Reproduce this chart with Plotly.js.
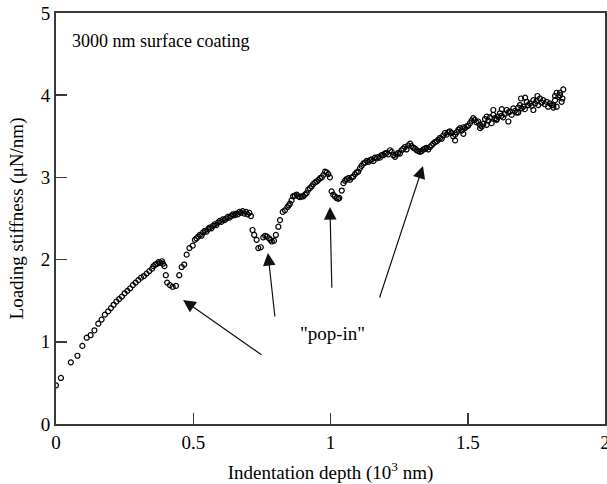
<!DOCTYPE html>
<html>
<head>
<meta charset="utf-8">
<script src="https://cdn.plot.ly/plotly-3.0.1.min.js"></script>
<style>html,body{margin:0;padding:0;background:#fff;}#chart{width:607px;height:484px;}</style>
</head>
<body>
<div id="chart"></div>
<script>
// Indentation depth (10^3 nm)
const depth = [
0, 0.018, 0.054, 0.078, 0.096, 0.112, 0.126, 0.14, 0.154, 0.166, 0.178, 0.19, 0.2, 0.21, 0.22, 0.23, 0.24, 0.25, 0.26, 0.27,
0.28, 0.29, 0.3, 0.31, 0.32, 0.33, 0.34, 0.35, 0.355, 0.362, 0.368, 0.374, 0.38, 0.386, 0.39, 0.395,
0.40, 0.405, 0.415, 0.425, 0.437, 0.449, 0.458, 0.467, 0.476, 0.486, 0.498, 0.506,
0.512, 0.518, 0.524, 0.53, 0.536, 0.542, 0.548, 0.554, 0.56, 0.566, 0.572, 0.578, 0.584, 0.59, 0.596, 0.602, 0.608, 0.614,
0.62, 0.626, 0.632, 0.638, 0.644, 0.65, 0.656, 0.662, 0.668, 0.674, 0.68, 0.686, 0.692, 0.698, 0.704, 0.71,
0.716, 0.722, 0.731, 0.737, 0.746, 0.755, 0.762, 0.768, 0.776, 0.781, 0.786, 0.794, 0.801, 0.81, 0.816, 0.826, 0.834,
0.843, 0.848, 0.852, 0.858, 0.864, 0.87, 0.877, 0.883, 0.889, 0.895, 0.901, 0.907, 0.913, 0.919, 0.925, 0.931, 0.937,
0.944, 0.95, 0.956, 0.962, 0.968, 0.974, 0.98, 0.986, 0.992, 0.998,
1.004, 1.01, 1.016, 1.022, 1.028, 1.032, 1.041, 1.047, 1.053, 1.059, 1.065, 1.071, 1.077, 1.083, 1.089, 1.095, 1.101,
1.107, 1.113, 1.12, 1.126, 1.132, 1.138, 1.144, 1.15, 1.156, 1.162, 1.168, 1.174, 1.18, 1.186, 1.192, 1.198, 1.204,
1.21, 1.217, 1.223, 1.229, 1.235, 1.241, 1.247, 1.253, 1.259, 1.265, 1.271, 1.277, 1.283, 1.29, 1.296, 1.302, 1.308,
1.314, 1.32, 1.326, 1.332, 1.338, 1.344, 1.35, 1.356, 1.362, 1.368, 1.374, 1.381, 1.387, 1.393, 1.399, 1.405, 1.411,
1.417, 1.423, 1.429, 1.435, 1.441, 1.447, 1.454, 1.46, 1.466, 1.472, 1.478, 1.484, 1.49, 1.496, 1.502, 1.508, 1.514,
1.52, 1.526, 1.532, 1.538, 1.544, 1.551, 1.557, 1.563, 1.569, 1.575, 1.581, 1.587, 1.593, 1.599, 1.605, 1.611, 1.617,
1.623, 1.629, 1.635, 1.642, 1.648, 1.654, 1.66, 1.666, 1.672, 1.678, 1.684, 1.69, 1.696, 1.702, 1.708, 1.715, 1.721,
1.727, 1.733, 1.739, 1.745, 1.751, 1.757, 1.763, 1.769, 1.775, 1.781, 1.787, 1.793, 1.799, 1.806, 1.812, 1.818, 1.824,
1.83, 1.836, 1.842, 1.845, 1.848,
1.593, 1.624, 1.694, 1.709, 1.754, 1.818, 1.824, 1.836, 1.648, 1.545, 1.569, 1.454, 1.484, 1.739, 1.812, 1.605, 1.684
];
// Loading stiffness (uN/nm)
const stiffness = [
0.47, 0.56, 0.75, 0.83, 0.95, 1.05, 1.08, 1.14, 1.22, 1.27, 1.33, 1.37, 1.41, 1.45, 1.49, 1.52, 1.55, 1.59, 1.62, 1.65,
1.69, 1.72, 1.75, 1.78, 1.80, 1.83, 1.86, 1.89, 1.92, 1.94, 1.95, 1.97, 1.96, 1.98, 1.95, 1.92,
1.81, 1.72, 1.69, 1.67, 1.68, 1.81, 1.91, 1.94, 2.06, 2.14, 2.17, 2.24,
2.26, 2.28, 2.30, 2.29, 2.33, 2.35, 2.34, 2.37, 2.39, 2.38, 2.41, 2.43, 2.42, 2.45, 2.47, 2.46, 2.49, 2.48,
2.50, 2.52, 2.51, 2.53, 2.55, 2.54, 2.56, 2.55, 2.58, 2.57, 2.59, 2.56, 2.58, 2.55, 2.57, 2.53,
2.36, 2.30, 2.24, 2.14, 2.15, 2.27, 2.29, 2.28, 2.26, 2.24, 2.22, 2.23, 2.30, 2.40, 2.48, 2.58, 2.60,
2.64, 2.66, 2.68, 2.72, 2.77, 2.78, 2.79, 2.77, 2.76, 2.77, 2.77, 2.79, 2.81, 2.85, 2.87, 2.89, 2.92,
2.94, 2.95, 2.97, 2.99, 3.00, 3.03, 3.07, 3.06, 3.04, 3.00,
2.83, 2.79, 2.77, 2.75, 2.74, 2.75, 2.84, 2.93, 2.96, 2.98, 2.99, 2.97, 3.00, 3.01, 3.04, 3.06, 3.07,
3.11, 3.14, 3.17, 3.18, 3.20, 3.19, 3.21, 3.22, 3.20, 3.24, 3.23, 3.25, 3.24, 3.27, 3.27, 3.29, 3.30,
3.28, 3.33, 3.31, 3.27, 3.25, 3.28, 3.30, 3.29, 3.33, 3.35, 3.37, 3.34, 3.39, 3.41, 3.38, 3.36, 3.35,
3.33, 3.32, 3.31, 3.32, 3.34, 3.35, 3.36, 3.34, 3.37, 3.39, 3.41, 3.43, 3.44, 3.46, 3.48, 3.47, 3.51,
3.54, 3.52, 3.55, 3.56, 3.54, 3.50, 3.52, 3.55, 3.58, 3.60, 3.57, 3.61, 3.60, 3.62, 3.63, 3.66, 3.69,
3.72, 3.70, 3.67, 3.68, 3.64, 3.62, 3.65, 3.71, 3.74, 3.69, 3.73, 3.66, 3.76, 3.72, 3.70, 3.74, 3.78,
3.75, 3.73, 3.77, 3.82, 3.79, 3.80, 3.76, 3.84, 3.81, 3.79, 3.85, 3.88, 3.84, 3.86, 3.83, 3.92, 3.88,
3.90, 3.87, 3.94, 3.90, 3.93, 3.88, 3.96, 3.91, 3.94, 3.89, 3.92, 3.86, 3.90, 3.88, 3.88, 3.94, 3.86,
3.98, 4.00, 3.92, 3.96, 4.07,
3.82, 3.83, 3.96, 3.97, 3.99, 3.99, 4.03, 4.03, 3.68, 3.60, 3.64, 3.45, 3.53, 3.82, 3.85, 3.71, 3.79
];
const xTicks = [0, 0.5, 1, 1.5, 2];
const xTickText = ['0', '0.5', '1', '1.5', '2'];
const yTicks = [0, 1, 2, 3, 4, 5];
const yTickText = ['0', '1', '2', '3', '4', '5'];
// pop-in arrows: head (x,y) and tail (ax,ay) in data units
const arrowHeadX = [0.463, 0.772, 0.998, 1.337];
const arrowHeadY = [1.51, 2.08, 2.64, 3.14];
const arrowTailX = [0.754, 0.798, 1.005, 1.177];
const arrowTailY = [0.83, 1.29, 1.64, 1.52];

const serif = 'Liberation Serif, Times New Roman, serif';
const axColor = '#3a3a3a';

const trace = {
  x: depth, y: stiffness, type: 'scatter', mode: 'markers',
  marker: {symbol: 'circle-open', size: 5, color: '#000', line: {width: 1.2, color: '#000'}},
  hoverinfo: 'skip'
};

const annotations = [
  {xref: 'paper', yref: 'paper', x: 0.025, y: 0.932, xanchor: 'left', yanchor: 'middle',
   text: '3000 nm surface coating', showarrow: false, font: {family: serif, size: 18, color: '#000'}},
  {xref: 'x', yref: 'y', x: 1.009, y: 1.107, xanchor: 'center', yanchor: 'middle',
   text: '"pop-in"', showarrow: false, font: {family: serif, size: 19, color: '#000'}}
];
for (let i = 0; i < arrowHeadX.length; i++) {
  annotations.push({
    xref: 'x', yref: 'y', axref: 'x', ayref: 'y',
    x: arrowHeadX[i], y: arrowHeadY[i], ax: arrowTailX[i], ay: arrowTailY[i],
    text: '', showarrow: true, arrowhead: 2, arrowsize: 2.1, arrowwidth: 1.2, arrowcolor: '#111', standoff: 0
  });
}

const layout = {
  width: 607, height: 484,
  margin: {l: 56, r: 2, t: 13, b: 60, pad: 0},
  paper_bgcolor: '#fff', plot_bgcolor: '#fff',
  showlegend: false,
  font: {family: serif, color: '#000'},
  xaxis: {
    range: [0, 2], tickvals: xTicks, ticktext: xTickText,
    ticks: 'inside', ticklen: 11, tickwidth: 1.5, tickcolor: axColor,
    showline: true, linecolor: axColor, linewidth: 2, mirror: true,
    showgrid: false, zeroline: false, ticklabeloverflow: 'allow',
    tickfont: {family: serif, size: 19, color: '#000'},
    title: {text: 'Indentation depth (10<sup>3</sup> nm)', font: {family: serif, size: 19, color: '#000'}, standoff: 14}
  },
  yaxis: {
    range: [0, 5], tickvals: yTicks, ticktext: yTickText,
    ticks: 'inside', ticklen: 11, tickwidth: 1.5, tickcolor: axColor,
    showline: true, linecolor: axColor, linewidth: 2, mirror: true,
    showgrid: false, zeroline: false, ticklabeloverflow: 'allow',
    tickfont: {family: serif, size: 19, color: '#000'},
    title: {text: 'Loading stiffness (μN/nm)', font: {family: serif, size: 19, color: '#000'}, standoff: 12}
  },
  annotations: annotations
};

Plotly.newPlot('chart', [trace], layout, {displayModeBar: false, staticPlot: true});
</script>
</body>
</html>
